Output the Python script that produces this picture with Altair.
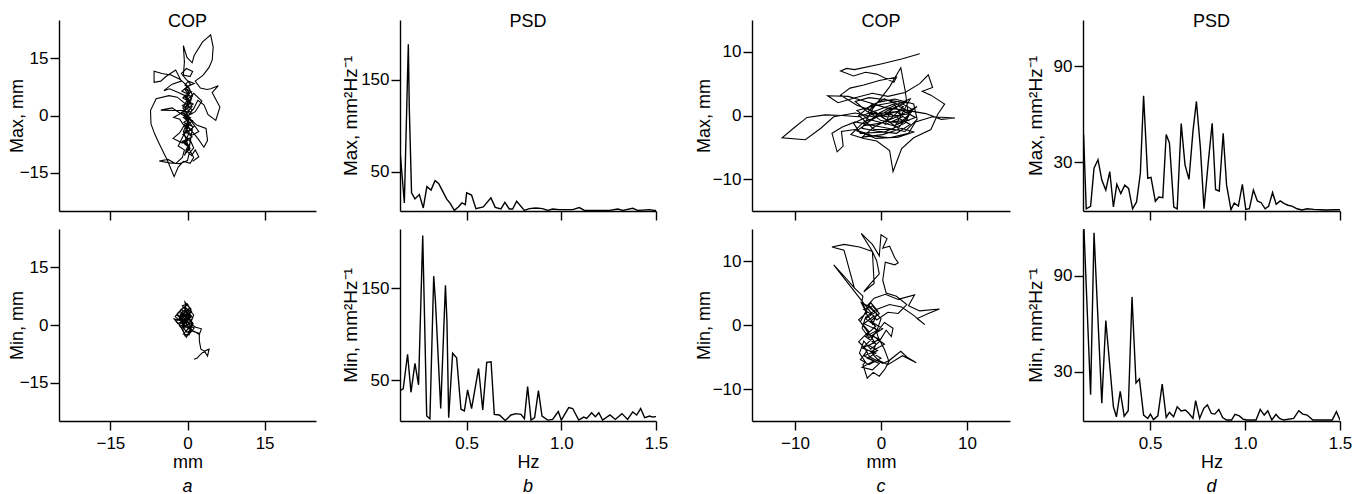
import altair as alt
import pandas as pd

FONT = "Liberation Sans"

# ---------------- COP trajectories (mm) ----------------
A_TOP = [(0.0, 2.0), (0.8, 4.5), (-0.5, 6.8), (0.6, 8.2), (-0.3, 9.5), (-1.2, 11.0), (-0.2, 12.3), (1.0, 11.5),
         (0.5, 10.2), (-0.8, 10.6), (-0.6, 14.0), (-0.8, 18.3), (-0.1, 15.2), (0.9, 13.8), (1.3, 15.7), (2.9, 19.2),
         (4.5, 21.1), (5.0, 17.9), (4.8, 14.5), (4.2, 12.6), (3.0, 10.5), (1.5, 9.0), (2.5, 7.2), (3.8, 6.8),
         (4.5, 7.0), (6.0, 7.8), (4.8, 6.0), (5.6, 4.0), (6.3, 2.2), (5.8, 0.0), (5.5, -1.3), (4.0, 0.2), (3.2, 2.8),
         (2.0, 4.0), (1.2, 1.8), (0.4, 0.5), (-0.5, 1.3), (-2.5, 1.3), (-5.2, 1.4), (-3.0, 2.0), (-1.0, 0.2),
         (0.6, -1.0), (1.8, -2.5), (3.6, -3.4), (3.9, -6.5), (3.2, -8.3), (2.0, -6.0), (0.8, -4.0), (-0.4, -2.0),
         (-1.5, -4.5), (-2.8, -6.0), (-1.0, -7.2), (0.4, -6.0), (1.2, -8.5), (0.3, -10.0), (0.0, -11.8),
         (-1.5, -12.6), (-3.5, -12.4), (-5.5, -11.9), (-3.8, -11.5), (-2.3, -12.6), (-1.0, -11.0), (-0.6, -9.0),
         (-1.8, -8.0), (-0.9, -5.5), (0.2, -3.0), (-0.2, -0.8), (0.9, 1.5), (-0.8, 3.5), (-2.0, 4.8), (-3.6, 5.2),
         (-6.1, 4.4), (-7.2, 1.3), (-7.1, -2.2), (-6.4, -4.8), (-5.5, -7.4), (-3.9, -11.8), (-2.6, -16.0),
         (-1.8, -13.5), (-0.8, -12.0), (0.5, -12.5), (1.2, -11.0), (0.5, -9.2), (-0.4, -7.0), (0.3, -4.5),
         (-0.6, -2.8), (-1.5, -1.0), (-2.7, -0.5), (-1.0, 0.8), (0.2, 3.0), (-0.4, 5.2), (-1.8, 6.0), (-3.5, 7.0),
         (-4.6, 6.5), (-3.0, 8.2), (-1.2, 9.0), (-2.3, 11.9), (-4.2, 10.2), (-5.2, 9.0), (-6.5, 8.7), (-6.5, 11.6),
         (-5.0, 11.0), (-3.2, 10.6), (-1.5, 9.5), (0.2, 7.5), (1.0, 5.2), (0.0, 3.0), (-0.7, 0.8), (0.3, -1.5),
         (-0.3, -3.5), (0.8, -5.2), (2.2, -4.2), (1.0, -2.0), (-0.1, -0.2), (1.5, 1.0), (2.8, 3.8), (1.2, 5.8),
         (0.0, 4.2), (-0.9, 2.0), (0.4, -0.6), (-0.8, -4.2), (0.1, -7.8), (-0.6, -10.5), (0.4, -8.0), (1.0, -3.0),
         (0.5, -2.0), (-0.8, -0.5), (0.9, 0.5), (-0.6, 2.2), (0.7, 3.3), (-0.9, 4.6), (0.4, 5.8), (-0.3, 7.0),
         (0.8, 6.2), (-0.7, 5.0), (0.6, 3.8), (-1.0, 2.6), (0.3, 1.2), (-0.5, -0.2), (1.0, -1.4), (-0.4, -2.6),
         (0.7, -3.8), (-0.9, -5.0), (0.2, -6.2), (-0.6, -7.4), (0.5, -8.6), (-0.3, -9.8), (0.4, -8.4), (-1.0, -6.8),
         (0.9, -5.6), (-0.2, -4.4), (1.2, -3.0), (-0.7, -1.8), (0.6, -0.6), (-1.2, 0.8), (0.2, 2.0), (1.1, 3.0),
         (-0.4, 4.2), (0.3, 5.4), (-1.1, 6.4), (0.0, 7.6), (1.3, 8.4), (0.2, 9.0), (-0.5, 8.0), (0.5, 6.8),
         (-0.2, 5.0), (0.9, 2.4), (-0.6, 0.0), (0.4, -2.4), (-0.8, -4.8), (0.6, -7.0), (-0.3, -9.0), (0.8, -10.5),
         (1.5, -9.0), (2.2, -10.8), (1.0, -12.0)]

A_BOT = [(0.0, 0.0), (-0.6, 1.5), (0.4, 2.3), (-1.2, 3.0), (-0.3, 4.2), (-0.5, 6.0), (0.2, 4.8), (0.8, 3.5),
         (-0.4, 2.6), (-1.8, 3.3), (-2.4, 2.2), (-1.5, 1.2), (-2.6, 1.6), (-1.9, 0.4), (-0.8, 1.0), (0.3, 0.6),
         (1.0, 1.8), (0.4, 3.0), (-0.2, 1.2), (-1.0, -0.5), (-0.3, -1.6), (0.5, -0.3), (1.3, -0.8), (0.6, -2.0),
         (-0.5, -2.8), (-0.9, -1.2), (-1.6, -0.2), (-0.8, 2.0), (-1.4, 3.8), (-0.6, 4.6), (0.5, 3.8), (1.2, 2.6),
         (0.8, 1.2), (-0.3, 2.0), (-1.1, 2.7), (-0.4, 3.4), (0.3, 2.9), (-0.7, 0.4), (-1.5, 2.4), (-0.9, 3.6),
         (0.1, 3.9), (0.6, 2.4), (-0.1, 0.7), (-1.2, 1.9), (-2.1, 2.6), (-1.0, 4.4), (0.0, 5.2), (0.7, 4.1),
         (-0.2, 3.1), (-1.3, 1.1), (-0.5, -0.7), (0.2, 1.5), (1.0, 0.6), (0.3, -1.0), (-0.6, -0.2), (-1.4, 0.8),
         (-0.4, 1.8), (0.3, 0.2), (-0.9, -0.6), (-0.1, -1.9), (0.8, -1.2), (0.1, 0.9), (-1.0, 2.3), (-0.3, 3.6),
         (0.5, 1.8), (-0.6, 0.2), (-1.5, 1.4), (-0.8, 2.6), (0.2, 2.0), (0.9, 0.0), (0.0, -1.2), (-0.8, -2.4),
         (0.3, -2.6), (0.7, -1.0), (-0.5, 0.6), (-1.3, -0.3), (-2.2, 1.0), (-1.2, 2.0), (-0.2, 2.6), (0.6, 3.2),
         (-0.4, 4.0), (-1.0, 5.0), (0.0, 5.5), (0.4, 4.4), (-0.7, 3.2), (-1.7, 2.2),
         (1.6, -0.6), (2.7, -1.0), (2.3, -2.5), (1.5, -1.8), (0.4, -0.9), (-0.2, 0.3), (-1.1, 1.6), (-2.0, 2.8),
         (-1.3, 4.0), (-0.1, 3.4), (0.6, 2.0), (-0.4, 0.9), (-1.2, -0.8), (-0.2, -3.2), (0.4, -1.5), (1.1, 0.3),
         (0.2, 1.6), (-0.7, 2.8), (-1.6, 2.0), (-0.9, 0.2), (0.2, -0.8), (1.0, -1.6), (2.3, -2.2), (2.3, -4.1),
         (2.6, -6.3), (3.3, -6.8), (4.2, -6.3), (3.9, -8.1), (3.4, -7.0), (2.9, -7.2), (2.3, -8.0), (1.9, -8.6),
         (1.3, -8.9)]

C_TOP = [(0.5, 0.2), (2.0, 1.5), (3.5, 0.5), (2.2, -1.2), (0.0, -0.8), (-1.5, 0.6), (-0.5, 2.0), (1.6, 2.6),
         (3.8, 1.8), (4.2, -0.6), (2.8, -2.5), (0.8, -2.0), (-1.2, -1.5), (-3.0, -1.0), (-4.5, -1.8), (-5.7, -2.8),
         (-5.1, -5.7), (-4.4, -4.8), (-4.6, -2.5), (-3.0, -2.2), (-1.0, -3.2), (1.0, -3.5), (3.2, -2.8),
         (4.0, -1.0), (6.0, -0.2), (8.6, -0.4), (7.0, -0.6), (5.2, 0.3), (3.0, 0.8), (0.6, 1.2), (-1.8, 2.2),
         (-3.8, 3.0), (-6.2, 3.1), (-5.0, 2.0), (-3.0, 2.8), (-1.0, 3.5), (0.8, 3.0), (2.8, 3.6), (4.5, 5.0),
         (5.5, 6.4), (6.0, 4.4), (4.8, 3.8), (5.8, 3.2), (7.4, 1.8), (6.6, 0.2), (5.8, -2.2), (3.8, -3.5),
         (2.4, -5.2), (1.4, -8.8), (1.0, -5.5), (-0.5, -4.0), (-2.0, -3.6), (-3.5, -3.0), (-2.0, -1.0),
         (0.0, 0.0), (2.5, 0.8), (4.0, -0.3), (1.5, -1.6), (-1.5, -0.6), (-2.8, 0.8), (-0.5, 1.6), (2.0, 2.2),
         (3.6, 1.0), (2.8, -1.2), (0.4, -2.6), (-2.4, -2.8), (-3.2, -1.2), (-1.0, 0.2), (1.8, 0.6), (3.2, -0.8),
         (1.0, -1.0), (-1.6, 1.2), (0.4, 2.6), (2.6, 1.4), (1.2, -0.4), (-0.8, -1.8), (-2.2, -3.4), (0.2, -3.0),
         (2.4, -2.0), (3.8, -2.6), (2.0, -3.4), (-0.6, -3.6), (-2.8, -2.4), (-1.2, -0.8), (0.8, 0.8), (2.8, 2.0),
         (1.0, 2.4), (-1.4, 2.8), (-3.0, 2.2), (-1.6, 0.6), (0.6, -0.2), (3.0, 0.2), (4.2, 1.4), (2.2, 0.0),
         (0.0, -1.2), (-2.0, -1.6), (-0.2, 0.4), (1.6, 1.6), (3.4, 2.6), (1.4, -2.2), (-0.8, -2.2), (-2.6, 0.0),
         (-1.0, 1.8), (1.2, 1.0),
         (0.5, -1.4), (2.5, -0.2), (1.5, 1.8), (-0.5, 0.8), (-2.6, -0.2), (-4.5, 0.0), (-6.5, 0.1), (-8.6, -0.3),
         (-10.0, -1.8), (-11.5, -3.5), (-8.8, -3.8), (-7.0, -2.0), (-5.5, -0.2), (-3.0, 0.4), (-1.0, -0.2),
         (1.2, 0.2), (3.4, -1.4), (1.8, -2.8), (-0.3, -2.5), (-2.2, -2.0), (-1.0, 1.0), (1.0, 4.5), (2.3, 7.5),
         (2.8, 4.0), (3.2, 0.0), (2.0, -2.0), (-0.6, 0.5), (-2.8, 1.6), (-4.7, 3.2), (-3.6, 4.3), (-2.0, 4.8),
         (-0.2, 5.5), (1.8, 6.0), (1.5, 5.2), (-0.5, 6.5), (-1.8, 6.8), (-3.2, 6.2), (-4.7, 7.0), (-4.0, 7.4),
         (-3.1, 7.2), (0.0, 8.1), (2.5, 8.9), (4.5, 9.7)]

C_BOT = [(-1.0, 0.0), (-0.5, 1.8), (-1.6, 3.0), (-0.8, 4.2), (0.5, 4.8), (2.0, 4.0), (3.9, 4.7), (3.2, 3.0),
         (4.5, 2.2), (6.8, 2.5), (5.5, 1.8), (4.2, 1.0), (5.1, 0.05), (3.8, 1.5), (2.4, 2.8), (1.0, 3.2),
         (-0.6, 2.4), (-1.8, 1.2), (-2.2, -0.5), (-1.4, -2.0), (-0.4, -1.0), (0.4, 0.4), (1.4, -0.5), (1.2, -1.8),
         (0.6, -0.8), (-0.2, -2.6), (-1.2, -3.8), (-2.0, -2.5), (-2.5, -4.4), (-1.8, -5.8), (-2.1, -6.2),
         (-1.6, -8.3), (-0.9, -7.4), (-0.2, -8.0), (0.5, -6.8), (1.0, -5.5), (2.3, -4.1), (3.0, -5.0), (4.1, -5.9),
         (2.5, -4.8), (0.8, -6.2), (-0.3, -5.5), (-1.0, -4.5), (-0.6, -3.0), (-1.5, -1.2), (-2.4, 0.5),
         (-1.2, 3.5), (-0.4, 2.2), (-1.8, 1.0), (-0.6, -0.2), (-1.6, -1.4), (-0.2, -2.2), (-1.4, -3.2),
         (-0.4, -4.0), (-2.0, -4.8), (-0.8, -5.6), (-2.2, -6.6), (-1.0, -7.0), (-0.2, -6.0), (-1.6, -5.2),
         (-0.6, -4.4), (-2.2, -3.6), (-0.8, -2.8), (-1.8, -1.8), (-0.4, -0.8), (-2.0, 0.2), (-0.8, 1.4),
         (-2.0, 2.4), (-1.0, 3.0), (-0.2, 1.8), (-1.2, 0.6), (0.2, -0.6), (-1.0, -1.6), (0.4, -3.0), (-1.2, -4.2),
         (0.0, -5.2), (-1.4, -6.2), (-2.4, -5.4), (-1.6, -4.0), (-2.6, -2.6), (-1.4, -1.0), (-2.6, 0.8),
         (-1.6, 2.0),
         (-1.8, 2.2), (-2.3, 3.5), (-1.2, 2.8), (0.0, 1.0), (-0.4, -0.6), (-1.1, -2.2), (-2.0, -3.4), (-1.3, -5.0),
         (0.2, -6.0), (0.9, -5.6), (0.4, -3.8), (-0.3, -2.0), (-0.8, 0.2), (-1.6, 1.5), (-2.2, 3.8), (-2.1, 4.5),
         (-3.1, 5.8), (-4.3, 11.7), (-5.7, 12.2), (-4.3, 12.6), (-2.5, 12.2), (-1.0, 11.5), (-0.5, 10.0),
         (-0.2, 8.0), (-1.2, 6.5), (-2.0, 5.2), (-0.8, 6.5), (-1.0, 11.5), (-2.3, 14.3), (-1.0, 12.6),
         (-0.2, 10.8), (0.0, 14.1), (0.7, 13.5), (0.2, 12.0), (1.0, 12.3), (1.6, 10.5), (2.0, 9.7), (1.6, 9.4),
         (0.5, 9.8), (0.2, 7.0), (0.6, 5.0), (1.8, 4.5), (3.0, 3.2), (2.0, 1.8), (0.8, 2.0), (-0.5, 0.8),
         (-5.5, 9.4), (-4.2, 7.5), (-3.1, 5.8)]

# ---------------- PSD spectra (mm^2/Hz) ----------------
B_TOP_F = [0.148, 0.171, 0.192, 0.197, 0.209, 0.227, 0.25, 0.271, 0.29, 0.312, 0.333, 0.352, 0.373, 0.394, 0.414,
           0.435, 0.456, 0.475, 0.493, 0.5, 0.526, 0.549, 0.588, 0.628, 0.651, 0.681, 0.702, 0.725, 0.743, 0.764,
           0.805, 0.831, 0.866, 0.901, 0.928, 0.954, 0.989, 1.06, 1.095, 1.121, 1.183, 1.254, 1.298, 1.325, 1.377,
           1.403, 1.465, 1.49, 1.5]
B_TOP_P = [72.8, 15.8, 188.6, 120.0, 26.8, 20.2, 25.0, 10.3, 33.5, 29.8, 40.0, 37.0, 28.7, 20.2, 15.0,
           7.7, 11.4, 15.8, 14.0, 26.8, 24.3, 9.6, 11.4, 21.3, 11.0, 9.2, 16.5, 9.2, 9.2, 17.6,
           7.7, 9.6, 10.3, 9.6, 7.7, 9.2, 8.5, 8.5, 10.7, 7.7, 7.7, 7.7, 9.2, 7.7, 9.9,
           7.7, 8.5, 7.7, 7.7]

B_BOT_F = [0.148, 0.165, 0.188, 0.206, 0.227, 0.246, 0.268, 0.289, 0.306, 0.326, 0.335, 0.363, 0.388, 0.396,
           0.405, 0.426, 0.447, 0.47, 0.488, 0.505, 0.526, 0.563, 0.585, 0.606, 0.629, 0.646, 0.673, 0.704, 0.734,
           0.761, 0.787, 0.805, 0.822, 0.84, 0.859, 0.879, 0.898, 0.928, 0.954, 0.984, 1.0, 1.039, 1.06, 1.092,
           1.118, 1.134, 1.16, 1.18, 1.198, 1.218, 1.257, 1.285, 1.32, 1.35, 1.377, 1.398, 1.419, 1.44, 1.467,
           1.481, 1.5]
B_BOT_P = [39.0, 40.8, 78.3, 37.1, 68.4, 45.2, 207.0, 11.4, 8.5, 162.9, 136.4, 19.5, 152.9, 114.0,
           9.6, 79.4, 74.6, 18.8, 16.9, 39.7, 19.5, 62.9, 18.0, 69.5, 70.2, 13.2, 12.5, 6.6, 12.5,
           14.0, 13.2, 8.5, 43.4, 7.0, 9.6, 39.0, 11.4, 7.0, 7.7, 16.2, 7.0, 20.6, 19.5, 7.0,
           10.3, 8.8, 15.0, 10.7, 15.0, 7.0, 12.5, 7.7, 14.0, 7.7, 15.8, 12.5, 19.5, 9.6, 11.4,
           10.3, 10.7]

D_TOP_F = [0.15, 0.164, 0.187, 0.205, 0.226, 0.246, 0.267, 0.288, 0.307, 0.325, 0.346, 0.367, 0.387, 0.408,
           0.429, 0.449, 0.466, 0.488, 0.505, 0.528, 0.546, 0.567, 0.585, 0.602, 0.625, 0.643, 0.664, 0.684,
           0.705, 0.726, 0.744, 0.765, 0.784, 0.806, 0.827, 0.845, 0.864, 0.885, 0.903, 0.926, 0.943, 0.965,
           0.986, 1.004, 1.023, 1.044, 1.065, 1.085, 1.106, 1.124, 1.145, 1.164, 1.185, 1.207, 1.226, 1.247,
           1.274, 1.3, 1.327, 1.362, 1.397, 1.433, 1.468, 1.5]
D_TOP_P = [47.3, 0.8, 2.3, 26.2, 31.5, 18.8, 12.5, 24.1, 1.9, 16.1, 10.3, 15.6, 13.5, 0.8,
           5.1, 23.0, 71.6, 19.9, 20.5, 5.5, 8.2, 7.8, 47.3, 42.0, 1.9, 0.8, 54.1, 28.3,
           19.2, 49.4, 68.0, 38.9, 0.8, 29.4, 54.3, 12.9, 11.8, 48.0, 15.6, 0.2, 4.4, 2.5,
           16.1, 0.4, 0.8, 12.5, 5.7, 4.6, 0.8, 2.3, 11.0, 3.6, 5.7, 4.0, 3.0, 2.5,
           0.8, 0.0, 0.8, 0.4, 0.2, 0.0, 0.2, 0.2]

D_BOT_F = [0.152, 0.187, 0.205, 0.246, 0.267, 0.307, 0.323, 0.343, 0.364, 0.385, 0.405, 0.426, 0.444, 0.466,
           0.488, 0.502, 0.518, 0.541, 0.564, 0.585, 0.602, 0.624, 0.643, 0.664, 0.686, 0.705, 0.726, 0.74,
           0.761, 0.783, 0.802, 0.823, 0.841, 0.862, 0.882, 0.903, 0.929, 0.947, 0.97, 0.991, 1.009, 1.058,
           1.08, 1.101, 1.12, 1.141, 1.163, 1.182, 1.203, 1.256, 1.283, 1.304, 1.327, 1.357, 1.459, 1.481, 1.5]
D_BOT_P = [119.0, 15.7, 116.7, 10.4, 62.0, 8.3, 2.0, 17.8, 2.4, 5.8, 76.7, 23.1, 25.6, 3.1,
           1.0, 3.7, 0.3, 2.6, 22.4, 1.6, 4.7, 2.0, 8.3, 5.6, 6.2, 4.1, 1.0, 12.1,
           1.0, 7.3, 9.4, 4.1, 3.7, 6.6, 1.6, 0.0, 0.0, 3.5, 2.6, 0.5, 0.0, 0.0,
           6.6, 3.1, 5.8, 0.0, 3.5, 1.0, 0.0, 1.0, 5.8, 3.7, 3.1, 0.0, 0.0, 5.2, 0.0]


def path_df(pts):
    return pd.DataFrame({"i": list(range(len(pts))), "x": [p[0] for p in pts], "y": [p[1] for p in pts]})


def spec_df(f, p):
    return pd.DataFrame({"i": list(range(len(f))), "x": f, "y": p})


AX = dict(domainColor="black", tickColor="black", labelColor="black", titleColor="black",
          domainWidth=1.4, tickWidth=1.4, tickSize=9, grid=False,
          labelFont=FONT, labelFontSize=17, titleFont=FONT, titleFontSize=18, titleFontWeight="normal")


def panel(df, xdom, ydom, xticks, yticks, ytitle, ytx, width, height, bottom,
          xtitle="", xfmt="", top_title="", sub="", sw=1.1, ytsize=18):
    xkw = dict(AX, values=xticks, labelPadding=5, labelFlush=False)
    if xfmt:
        xkw["format"] = xfmt
    if bottom:
        xkw.update(title=xtitle, titleY=32)
    else:
        xkw.update(labels=False, title=None)
    ykw = dict(AX, values=yticks, labelPadding=2, title=ytitle, titleX=ytx)
    ykw["titleFontSize"] = ytsize
    ch = alt.Chart(df).mark_line(color="black", strokeWidth=sw, clip=True).encode(
        x=alt.X("x:Q", scale=alt.Scale(domain=xdom, nice=False, zero=False), axis=alt.Axis(**xkw)),
        y=alt.Y("y:Q", scale=alt.Scale(domain=ydom, nice=False, zero=False), axis=alt.Axis(**ykw)),
        order=alt.Order("i:Q"),
    ).properties(width=width, height=height)
    if top_title:
        ch = ch.properties(title=alt.TitleParams(top_title, font=FONT, fontSize=18, fontWeight="normal",
                                                 color="black", anchor="middle", frame="group", offset=-11))
    if sub:
        ch = ch.properties(title=alt.TitleParams(sub, font=FONT, fontSize=18, fontWeight="normal",
                                                 fontStyle="italic", color="black", anchor="middle",
                                                 frame="group", orient="bottom", offset=7))
    return ch


TH, BH = 191, 192

a = alt.vconcat(
    panel(path_df(A_TOP), [-25, 25], [-25, 25], [-15, 0, 15], [-15, 0, 15], "Max, mm", -33, 257, TH, False,
          top_title="COP"),
    panel(path_df(A_BOT), [-25, 25], [-25, 25], [-15, 0, 15], [-15, 0, 15], "Min, mm", -33, 257, BH, True,
          xtitle="mm", sub="a"),
    spacing=8)

b = alt.vconcat(
    panel(spec_df(B_TOP_F, B_TOP_P), [0.148, 1.5], [7, 215], [0.5, 1.0, 1.5], [50, 150],
          "Max, mm²Hz⁻¹", -40, 256, TH, False, xfmt=".1f", top_title="PSD", sw=1.4, ytsize=19),
    panel(spec_df(B_BOT_F, B_BOT_P), [0.148, 1.5], [6, 214], [0.5, 1.0, 1.5], [50, 150],
          "Min, mm²Hz⁻¹", -40, 256, BH, True, xtitle="Hz", xfmt=".1f", sub="b", sw=1.4, ytsize=19),
    spacing=8)

c = alt.vconcat(
    panel(path_df(C_TOP), [-15, 15], [-15, 15], [-10, 0, 10], [-10, 0, 10], "Max, mm", -39, 258, TH, False,
          top_title="COP"),
    panel(path_df(C_BOT), [-15, 15], [-15, 15], [-10, 0, 10], [-10, 0, 10], "Min, mm", -39, 258, BH, True,
          xtitle="mm", sub="c"),
    spacing=8)

d = alt.vconcat(
    panel(spec_df(D_TOP_F, D_TOP_P), [0.147, 1.5], [-0.6, 119], [0.5, 1.0, 1.5], [30, 90],
          "Max, mm²Hz⁻¹", -38, 257, TH, False, xfmt=".1f", top_title="PSD", sw=1.4, ytsize=19),
    panel(spec_df(D_BOT_F, D_BOT_P), [0.147, 1.5], [-0.6, 119], [0.5, 1.0, 1.5], [30, 90],
          "Min, mm²Hz⁻¹", -38, 257, BH, True, xtitle="Hz", xfmt=".1f", sub="d", sw=1.4, ytsize=19),
    spacing=8)

chart = alt.hconcat(
    alt.hconcat(a, b, spacing=25),
    alt.hconcat(c, d, spacing=16),
    spacing=27,
).properties(padding={"left": 0, "top": 5, "right": 0, "bottom": 0}, background="white"
).configure_view(strokeWidth=0).configure_concat(spacing=8)

chart.save("out.html", embed_options={"renderer": "svg", "actions": False})
